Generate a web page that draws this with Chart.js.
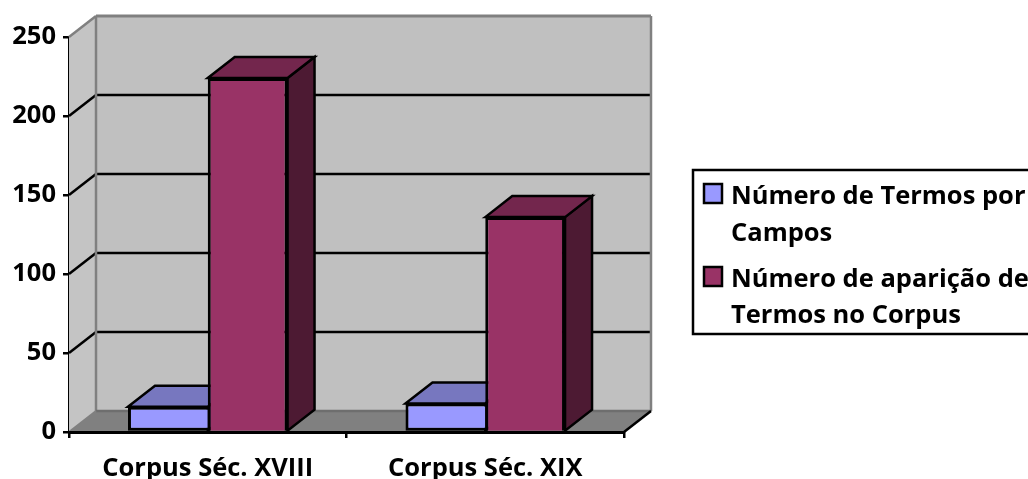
<!DOCTYPE html>
<html><head><meta charset="utf-8">
<style>html,body{margin:0;padding:0;background:#fff;overflow:hidden}canvas{display:block}</style>
<script src="https://cdn.jsdelivr.net/npm/chart.js@4"></script>
</head><body><canvas id="c" width="1028" height="479"></canvas>
<script>
const categories = ["Corpus Séc. XVIII", "Corpus Séc. XIX"];
const termosPorCampos = [16, 18];
const aparicaoTermos = [224, 136];
const seriesNames = ["Número de Termos por Campos", "Número de aparição de Termos no Corpus"];
const legendLines = [["Número de Termos por", "Campos"], ["Número de aparição de", "Termos no Corpus"]];
const seriesColors = ["#9999ff", "#993366"];
const topColors = ["#7777bf", "#73264d"];
const sideColors = ["#4c4c80", "#4d1a33"];
const FONT = "'Open Sans', sans-serif";
const FSIZE = 25.5;
const DX = 27, DY = -21;

function poly(ctx, pts, fill, stroke, lw) {
  ctx.beginPath();
  pts.forEach((p, i) => i ? ctx.lineTo(p[0], p[1]) : ctx.moveTo(p[0], p[1]));
  ctx.closePath();
  if (fill) { ctx.fillStyle = fill; ctx.fill(); }
  if (stroke) { ctx.strokeStyle = stroke; ctx.lineWidth = lw; ctx.lineJoin = "miter"; ctx.stroke(); }
}
function line(ctx, x1, y1, x2, y2, color, lw) {
  ctx.beginPath(); ctx.moveTo(x1, y1); ctx.lineTo(x2, y2);
  ctx.strokeStyle = color; ctx.lineWidth = lw; ctx.stroke();
}

const scene3d = {
  id: "scene3d",
  beforeDatasetsDraw(chart) {
    const { ctx, chartArea: a, scales: { y } } = chart;
    const L = a.left, R = a.right, T = a.top, B = a.bottom;
    ctx.save();
    poly(ctx, [[L + DX, T + DY], [R + DX, T + DY], [R + DX, B + DY], [L + DX, B + DY]], "#c0c0c0");
    poly(ctx, [[L, T], [L + DX, T + DY], [L + DX, B + DY], [L, B]], "#c4c4c4");
    poly(ctx, [[L, B], [L + DX, B + DY], [R + DX, B + DY], [R, B]], "#808080");
    y.ticks.forEach(t => {
      const p = y.getPixelForValue(t.value);
      if (t.value === 0 || t.value === y.max) return;
      line(ctx, L, p, L + DX, p + DY, "#000", 2.5);
      line(ctx, L + DX, p + DY, R + DX, p + DY, "#000", 2.5);
    });
    const g = "#808080";
    line(ctx, L, T, L + DX, T + DY, g, 2.5);
    line(ctx, L + DX, T + DY, R + DX, T + DY, g, 3);
    line(ctx, L + DX, T + DY, L + DX, B + DY, g, 2.5);
    line(ctx, R + DX, T + DY, R + DX, B + DY, g, 2.5);
    line(ctx, L + DX, B + DY, R + DX, B + DY, "#6e6e6e", 2.5);
    line(ctx, L, B, L + DX, B + DY, g, 2);
    line(ctx, R, B, R + DX, B + DY, "#000", 2.5);
    chart.data.datasets.forEach((ds, i) => {
      chart.getDatasetMeta(i).data.forEach(b => {
        const x0 = b.x - b.width / 2, x1 = b.x + b.width / 2, t = b.y, bt = b.base;
        poly(ctx, [[x1, t], [x1 + DX, t + DY], [x1 + DX, bt + DY], [x1, bt]], sideColors[i], "#000", 2.5);
        poly(ctx, [[x0, t], [x0 + DX, t + DY], [x1 + DX, t + DY], [x1, t]], topColors[i], "#000", 2.5);
      });
    });
    ctx.restore();
  },
  afterDraw(chart) {
    const ctx = chart.ctx;
    ctx.save();
    ctx.fillStyle = "#fff"; ctx.fillRect(693, 170, 340, 164);
    ctx.strokeStyle = "#000"; ctx.lineWidth = 2.5; ctx.strokeRect(693, 170, 340, 164);
    ctx.font = "bold " + FSIZE + "px " + FONT; ctx.textBaseline = "alphabetic"; ctx.textAlign = "left";
    const swatchY = [184, 267], baseY = [[204, 241], [287, 323]];
    legendLines.forEach((lines, i) => {
      ctx.fillStyle = seriesColors[i];
      ctx.fillRect(704, swatchY[i], 18, 19);
      ctx.strokeStyle = "#000"; ctx.lineWidth = 2.5;
      ctx.strokeRect(704, swatchY[i], 18, 19);
      ctx.fillStyle = "#000";
      lines.forEach((s, j) => ctx.fillText(s, 731, baseY[i][j]));
    });
    ctx.restore();
  }
};

new Chart(document.getElementById("c"), {
  type: "bar",
  data: {
    labels: categories,
    datasets: [
      { label: seriesNames[0], data: termosPorCampos, backgroundColor: seriesColors[0], borderColor: "#000", borderWidth: 3, borderSkipped: "right" },
      { label: seriesNames[1], data: aparicaoTermos, backgroundColor: seriesColors[1], borderColor: "#000", borderWidth: 3 }
    ]
  },
  options: {
    responsive: false, animation: false,
    layout: { padding: { left: 0, top: 37, right: 404, bottom: 0 } },
    categoryPercentage: 0.575, barPercentage: 1,
    plugins: { legend: { display: false }, title: { display: false }, tooltip: { enabled: false } },
    scales: {
      x: {
        afterFit(s) { s.height = 47; },
        grid: { drawOnChartArea: false, drawTicks: true, tickLength: 6, color: "#000", lineWidth: 2.5 },
        border: { display: true, color: "#000", width: 3, z: 1 },
        ticks: { color: "#000", padding: 15, maxRotation: 0, font: { family: FONT, size: FSIZE, weight: "bold" } }
      },
      y: {
        min: 0, max: 250,
        afterFit(s) { s.width = 69; },
        grid: { drawOnChartArea: false, drawTicks: true, tickLength: 6, color: "#000", lineWidth: 2.5 },
        border: { display: true, color: "#000", width: 2.5 },
        ticks: { stepSize: 50, color: "#000", padding: 7, font: { family: FONT, size: FSIZE, weight: "bold" } }
      }
    }
  },
  plugins: [scene3d]
});
</script></body></html>
